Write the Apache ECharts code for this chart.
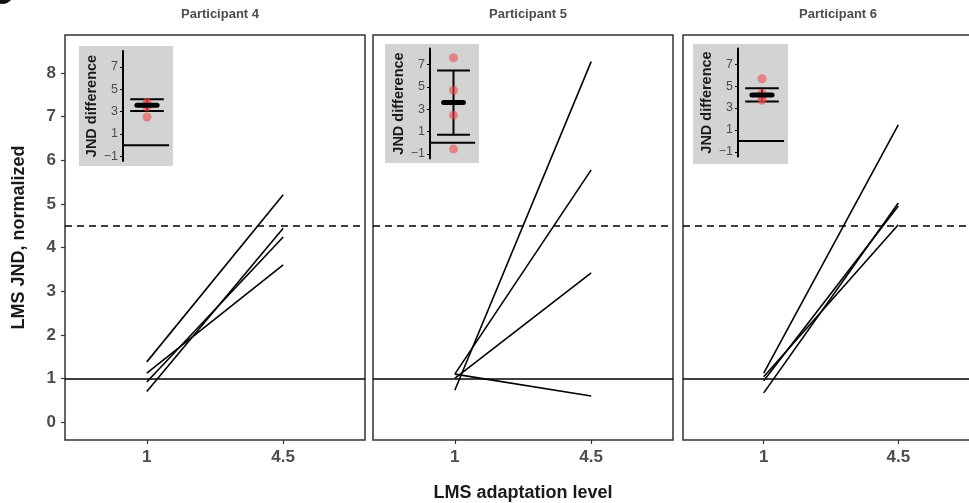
<!doctype html>
<html>
<head>
<meta charset="UTF-8">
<title>LMS JND</title>
<script src="https://cdn.jsdelivr.net/npm/echarts@6/dist/echarts.min.js"></script>
<style>
  html, body { margin: 0; padding: 0; background: #fff; }
  #main { width: 969px; height: 503px; }
</style>
</head>
<body>
<div id="main"></div>
<script>
// panel names and x levels
var participants = ['Participant 4', 'Participant 5', 'Participant 6'];
var levelLabels = ['1', '4.5'];
var yTicks = [0, 1, 2, 3, 4, 5, 6, 7, 8];
var insetTicks = [-1, 1, 3, 5, 7];

// normalized JND per subject, at level 1 and level 4.5
var low4 = [1.38, 1.12, 0.92, 0.70];
var high4 = [5.21, 3.60, 4.24, 4.44];
var low5 = [0.73, 1.10, 1.00, 1.10];
var high5 = [8.26, 5.78, 3.42, 0.60];
var low6 = [1.12, 0.67, 0.95, 1.04];
var high6 = [6.81, 5.02, 4.95, 4.52];

// inset: JND difference points, mean and interval
var diff4 = [3.85, 3.62, 3.40, 2.52];
var diff5 = [7.60, 4.69, 2.46, -0.58];
var diff6 = [5.67, 4.35, 3.95, 3.70];
var mean4 = 3.57, mean5 = 3.60, mean6 = 4.18;
var ci4 = [3.06, 4.10];
var ci5 = [0.70, 6.47];
var ci6 = [3.60, 4.81];

var lows = [low4, low5, low6];
var highs = [high4, high5, high6];
var diffs = [diff4, diff5, diff6];
var means = [mean4, mean5, mean6];
var cis = [ci4, ci5, ci6];

var FONT = '"Liberation Sans", Arial, sans-serif';
var panelLeft = [65, 373, 683];
var panelWidth = [300, 300, 296];
var insetGrid = [
  { left: 123, top: 51, width: 48, height: 110 },
  { left: 430, top: 48.5, width: 47, height: 110 },
  { left: 738, top: 48.5, width: 48, height: 108 }
];
var insetBox = [
  { x: 79, y: 46, w: 94, h: 120 },
  { x: 385, y: 44, w: 94, h: 119 },
  { x: 693, y: 44, w: 95, h: 120 }
];

var grids = [], xAxes = [], yAxes = [], series = [], titles = [], graphics = [];

// dark blob of the cut-off panel letter
graphics.push({ type: 'circle', shape: { cx: 2, cy: -8, r: 12 }, style: { fill: '#111' } });

for (var i = 0; i < 3; i++) {
  grids.push({ left: panelLeft[i], top: 35, width: panelWidth[i], height: 405, show: true,
    outerBoundsMode: 'none', containLabel: false,
    borderColor: '#333', borderWidth: 1.5, backgroundColor: 'transparent' });
  titles.push({ text: participants[i], left: panelLeft[i] + 150, top: 3, textAlign: 'center',
    textStyle: { fontFamily: FONT, fontSize: 13, fontWeight: 'bold', color: '#4d4d4d' } });
  xAxes.push({
    type: 'value', gridIndex: i, min: 0.4, max: 2.6,
    splitLine: { show: false }, axisLine: { show: false, onZero: false },
    axisTick: { show: true, customValues: [1, 2], length: 4, lineStyle: { color: '#333', width: 1.2 } },
    axisLabel: { customValues: [1, 2], margin: 9, fontFamily: FONT, fontSize: 17, fontWeight: 'bold', color: '#4d4d4d',
      formatter: function (v) { return levelLabels[Math.round(v) - 1]; } },
    name: i === 1 ? 'LMS adaptation level' : '', nameLocation: 'middle', nameGap: 44,
    nameTextStyle: { fontFamily: FONT, fontSize: 18, fontWeight: 'bold', color: '#1a1a1a' }
  });
  yAxes.push({
    type: 'value', gridIndex: i, min: -0.41, max: 8.87,
    splitLine: { show: false }, axisLine: { show: false, onZero: false },
    axisTick: { show: i === 0, customValues: yTicks, length: 4, lineStyle: { color: '#333', width: 1.2 } },
    axisLabel: { show: i === 0, customValues: yTicks, margin: 9, fontFamily: FONT, fontSize: 17, fontWeight: 'bold', color: '#4d4d4d' },
    name: i === 0 ? 'LMS JND, normalized' : '', nameLocation: 'middle', nameGap: 37,
    nameTextStyle: { fontFamily: FONT, fontSize: 18, fontWeight: 'bold', color: '#1a1a1a' }
  });

  for (var j = 0; j < lows[i].length; j++) {
    var s = {
      type: 'line', xAxisIndex: i, yAxisIndex: i, silent: true, symbol: 'none',
      data: [[1, lows[i][j]], [2, highs[i][j]]],
      lineStyle: { color: '#000', width: 1.6 }
    };
    if (j === 0) {
      s.markLine = {
        silent: true, symbol: 'none', label: { show: false },
        data: [
          { yAxis: 1, lineStyle: { color: '#000', width: 1.6, type: 'solid' } },
          { yAxis: 4.5, lineStyle: { color: '#000', width: 1.6, type: [7, 5] } }
        ]
      };
    }
    series.push(s);
  }
}

// insets
for (var k = 0; k < 3; k++) {
  var gi = 3 + k;
  graphics.push({ type: 'rect', z: 1, shape: { x: insetBox[k].x, y: insetBox[k].y, width: insetBox[k].w, height: insetBox[k].h },
    style: { fill: '#d3d3d3' } });
  grids.push(Object.assign({ outerBoundsMode: 'none', containLabel: false }, insetGrid[k]));
  xAxes.push({ type: 'value', gridIndex: gi, min: 0, max: 2, show: false });
  yAxes.push({
    type: 'value', gridIndex: gi, min: -1.42, max: 8.43, z: 5,
    splitLine: { show: false },
    axisLine: { show: true, onZero: false, lineStyle: { color: '#000', width: 2 } },
    axisTick: { show: true, customValues: insetTicks, length: 3, lineStyle: { color: '#000', width: 1 } },
    axisLabel: { customValues: insetTicks, margin: 5, fontFamily: FONT, fontSize: 12.5, color: '#4d4d4d',
      formatter: function (v) { return String(v).replace('-', '\u2212'); } },
    name: 'JND difference', nameLocation: 'middle', nameGap: 24,
    nameTextStyle: { fontFamily: FONT, fontSize: 14.5, fontWeight: 'bold', color: '#1a1a1a' }
  });
  series.push({
    type: 'line', xAxisIndex: gi, yAxisIndex: gi, silent: true, symbol: 'none', z: 5,
    data: [[0, 0], [1.92, 0]], lineStyle: { color: '#000', width: 2 }
  });
  series.push({
    type: 'custom', xAxisIndex: gi, yAxisIndex: gi, silent: true, z: 5,
    data: [[1, cis[k][0], cis[k][1]]],
    renderItem: function (params, api) {
      var x = api.value(0), lo = api.value(1), hi = api.value(2);
      var pLo = api.coord([x, lo]), pHi = api.coord([x, hi]);
      var l1 = api.coord([x - 0.7, lo]), r1 = api.coord([x + 0.7, lo]);
      var l2 = api.coord([x - 0.7, hi]), r2 = api.coord([x + 0.7, hi]);
      var st = { stroke: '#000', lineWidth: 2 };
      return { type: 'group', children: [
        { type: 'line', shape: { x1: pLo[0], y1: pLo[1], x2: pHi[0], y2: pHi[1] }, style: st },
        { type: 'line', shape: { x1: l1[0], y1: l1[1], x2: r1[0], y2: r1[1] }, style: st },
        { type: 'line', shape: { x1: l2[0], y1: l2[1], x2: r2[0], y2: r2[1] }, style: st }
      ] };
    }
  });
  series.push({
    type: 'scatter', xAxisIndex: gi, yAxisIndex: gi, silent: true, z: 6,
    symbolSize: 9,
    data: diffs[k].map(function (d) { return [1, d]; }),
    itemStyle: { color: 'rgba(242, 72, 72, 0.72)' }
  });
  series.push({
    type: 'line', xAxisIndex: gi, yAxisIndex: gi, silent: true, symbol: 'none', z: 7,
    data: [[0.58, means[k]], [1.42, means[k]]],
    lineStyle: { color: '#000', width: 5, cap: 'round' }
  });
}

var myChart = echarts.init(document.getElementById('main'), null, { renderer: 'canvas' });
myChart.setOption({
  animation: false,
  backgroundColor: '#fff',
  title: titles,
  grid: grids,
  xAxis: xAxes,
  yAxis: yAxes,
  series: series,
  graphic: graphics
});
</script>
</body>
</html>
